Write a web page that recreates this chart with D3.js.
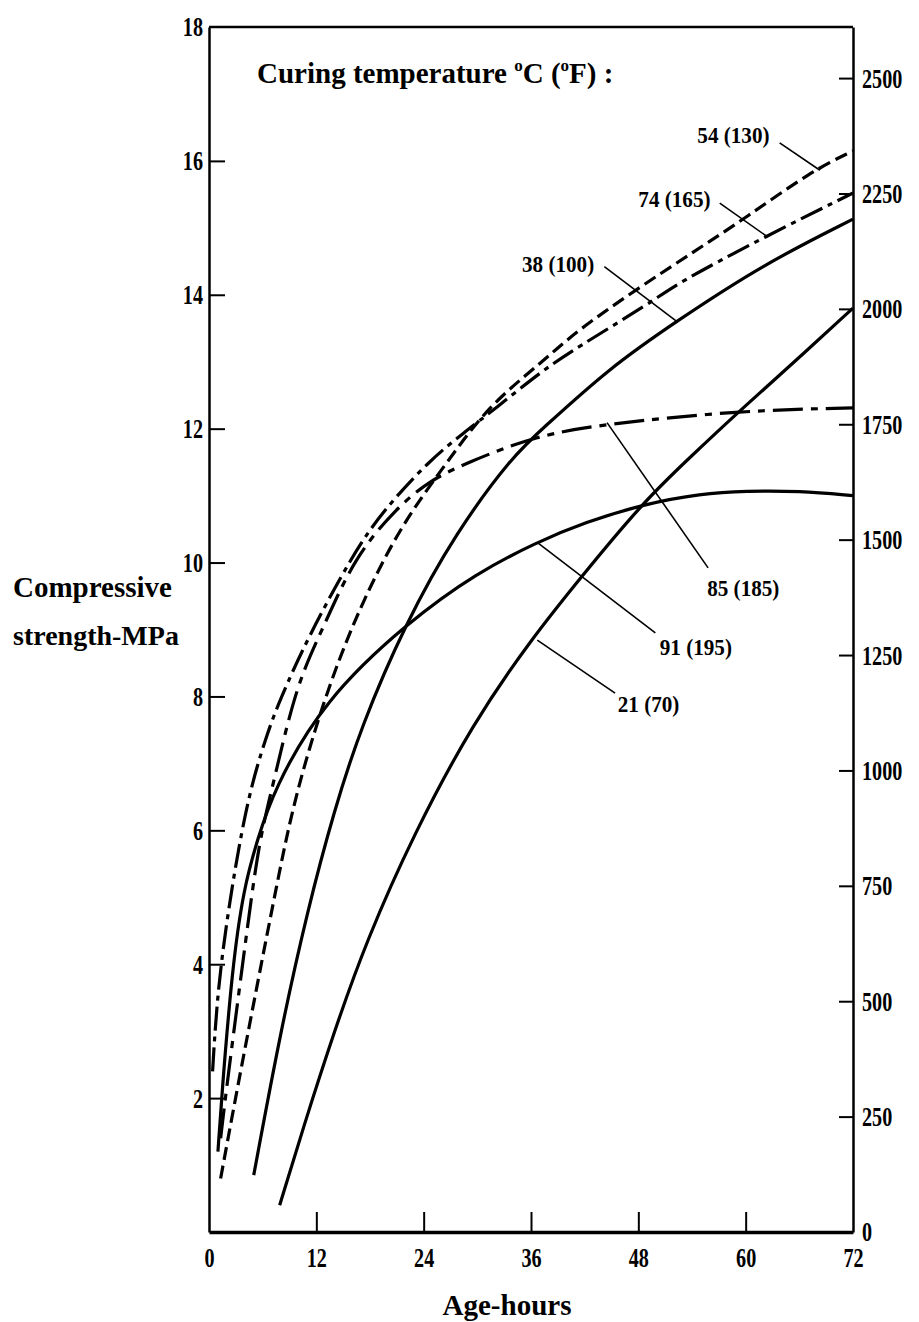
<!DOCTYPE html>
<html>
<head>
<meta charset="utf-8">
<script src="https://cdn.jsdelivr.net/npm/d3@7"></script>
<style>
  body { margin: 0; background: #fff; }
  svg { display: block; }
  text { font-family: 'Liberation Serif', 'Times New Roman', serif; font-weight: bold; fill: #000; }
</style>
</head>
<body>
<div id="chart"></div>
<script>
// Age in hours vs compressive strength (MPa)
const c21 = [[7.9,0.4],[10.4,1.5],[14,3.0],[17.6,4.35],[22.9,5.95],[29.5,7.6],[36,8.85],[41.4,9.75],[48.5,10.9],[54,11.6],[59.2,12.25],[63,12.7],[72,13.8]];
const c38 = [[5.0,0.85],[8.0,3.0],[11,4.8],[14,6.3],[17,7.55],[22,9.1],[27.6,10.45],[34,11.6],[37.3,12.0],[44.7,12.9],[52.2,13.6],[61.9,14.45],[72,15.13]];
const c54 = [[1.3,0.8],[3.1,2.1],[5.4,3.7],[7.6,5.2],[9.5,6.45],[12.8,7.94],[16.2,9.13],[19.8,10.13],[22.9,10.82],[26.9,11.55],[31.3,12.35],[37.3,13.0],[41,13.45],[48,14.1],[54.4,14.66],[60,15.15],[67.4,15.85],[72,16.15]];
const c74 = [[0.4,2.4],[0.9,3.5],[2.0,4.7],[4.2,6.45],[6.5,7.45],[7.9,7.94],[10.9,8.84],[16.1,10.13],[19.5,10.78],[24.6,11.52],[28.4,11.93],[32.1,12.31],[37.3,12.87],[41,13.2],[49.6,13.9],[52.2,14.16],[61.9,14.85],[72,15.52]];
const c85 = [[1.3,1.4],[2.0,2.2],[4.2,4.46],[5.6,5.85],[7.2,6.7],[9.8,8.2],[12.8,9.03],[16.2,10.07],[21,10.82],[24.6,11.22],[28.8,11.49],[36.6,11.9],[44.4,12.07],[59.2,12.27],[72,12.31]];
const c91 = [[1.0,1.2],[1.4,2.0],[2.6,3.96],[3.9,5.15],[5.4,5.85],[7.2,6.6],[12.8,7.94],[22.4,9.13],[30,9.85],[36.6,10.3],[42,10.6],[48.8,10.88],[55,11.03],[60,11.07],[66,11.07],[72,11.0]];

const curveNames = ['21 (70)', '38 (100)', '54 (130)', '74 (165)', '85 (185)', '91 (195)'];
const curveData = [c21, c38, c54, c74, c85, c91];
const curveDash = [null, null, '13,6', '24,6,5,6', '30,8,7,8', null];

const hourTicks = [0, 12, 24, 36, 48, 60, 72];
const mpaTicks = [2, 4, 6, 8, 10, 12, 14, 16, 18];
const psiTicks = [0, 250, 500, 750, 1000, 1250, 1500, 1750, 2000, 2250, 2500];

// label text anchor + leader line from label to curve (hours, MPa)
const labelPos = {
    '54 (130)': {tx: 54.6, ty: 16.27, from: [63.8, 16.27], to: [68.3, 15.86]},
    '74 (165)': {tx: 48.0, ty: 15.31, from: [57.1, 15.37], to: [62.5, 14.86]},
    '38 (100)': {tx: 35.0, ty: 14.34, from: [44.2, 14.42], to: [52.4, 13.59]},
    '85 (185)': {tx: 55.7, ty: 9.50, from: [55.8, 9.92], to: [44.5, 12.09]},
    '91 (195)': {tx: 50.4, ty: 8.62, from: [49.9, 8.95], to: [36.8, 10.29]},
    '21 (70)':  {tx: 45.7, ty: 7.77, from: [45.4, 8.05], to: [36.7, 8.84]}
};

const width = 919, height = 1322;
const plot = {left: 209, right: 853, top: 27, bottom: 1232};

const svg = d3.select('#chart').append('svg')
    .attr('width', width)
    .attr('height', height);

const x = d3.scaleLinear().domain([0, 72]).range([plot.left, plot.right]);
const y = d3.scaleLinear().domain([0, 18]).range([plot.bottom, plot.top]);
const psi = d3.scaleLinear().domain([0, 18 * 145.038]).range([plot.bottom, plot.top]);

// squeeze tick numbers, the original face is narrow
function narrow(sel, k) {
    sel.selectAll('text').each(function() {
        const w = this.getComputedTextLength();
        d3.select(this).attr('textLength', w * k).attr('lengthAdjust', 'spacingAndGlyphs');
    });
}

// left axis
const gLeft = svg.append('g')
    .attr('transform', `translate(${plot.left},0)`)
    .call(d3.axisLeft(y).tickValues(mpaTicks).tickSizeInner(-16).tickSizeOuter(0).tickPadding(6));
gLeft.selectAll('.tick line').filter(d => d === 18).remove();

// bottom axis
const gBottom = svg.append('g')
    .attr('transform', `translate(0,${plot.bottom})`)
    .call(d3.axisBottom(x).tickValues(hourTicks).tickSizeInner(-20).tickSizeOuter(0).tickPadding(15));
gBottom.selectAll('.tick line').filter(d => d === 0 || d === 72).remove();

// right axis in psi
const gRight = svg.append('g')
    .attr('transform', `translate(${plot.right},0)`)
    .call(d3.axisRight(psi).tickValues(psiTicks).tickFormat(d3.format('d'))
        .tickSizeInner(-14).tickSizeOuter(0).tickPadding(9));
gRight.selectAll('.tick line').filter(d => d === 0).remove();

[gLeft, gBottom, gRight].forEach(g => {
    g.select('.domain').attr('stroke', '#000').attr('stroke-width', 2.5);
    g.selectAll('.tick line').attr('stroke', '#000').attr('stroke-width', 2);
    g.selectAll('text').style('font-size', '28px').attr('fill', '#000');
    narrow(g, 0.72);
});
gBottom.select('.domain').attr('stroke-width', 3.5);

// top border
svg.append('line')
    .attr('x1', x(0)).attr('x2', x(72))
    .attr('y1', y(18)).attr('y2', y(18))
    .attr('stroke', '#000')
    .attr('stroke-width', 2.5);

// curves
const line = d3.line()
    .x(d => x(d[0]))
    .y(d => y(d[1]))
    .curve(d3.curveBasis);

svg.selectAll('.curve')
    .data(curveData)
    .join('path')
    .attr('class', 'curve')
    .attr('d', line)
    .attr('fill', 'none')
    .attr('stroke', '#000')
    .attr('stroke-width', 3.2)
    .attr('stroke-linecap', 'butt')
    .attr('stroke-dasharray', (d, i) => curveDash[i]);

// curve labels with leader lines
const lbl = curveNames.map(n => Object.assign({name: n}, labelPos[n]));

svg.selectAll('.leader')
    .data(lbl)
    .join('line')
    .attr('class', 'leader')
    .attr('x1', d => x(d.from[0])).attr('y1', d => y(d.from[1]))
    .attr('x2', d => x(d.to[0])).attr('y2', d => y(d.to[1]))
    .attr('stroke', '#000')
    .attr('stroke-width', 1.6);

const gLabels = svg.append('g');
gLabels.selectAll('text')
    .data(lbl)
    .join('text')
    .attr('x', d => x(d.tx))
    .attr('y', d => y(d.ty))
    .style('font-size', '24px')
    .text(d => d.name);
narrow(gLabels, 0.88);

// title
const title = svg.append('text')
    .attr('x', 257)
    .attr('y', 83)
    .style('font-size', '29px');
title.append('tspan').text('Curing temperature ');
title.append('tspan').text('o').style('font-size', '17px').attr('dy', -12);
title.append('tspan').text('C (').attr('dy', 12);
title.append('tspan').text('o').style('font-size', '17px').attr('dy', -12);
title.append('tspan').text('F) :').attr('dy', 12);

// axis titles
svg.append('text').attr('x', 13).attr('y', 597).style('font-size', '29px').text('Compressive');
svg.append('text').attr('x', 13).attr('y', 645).style('font-size', '28px').text('strength-MPa');
svg.append('text')
    .attr('x', 507)
    .attr('y', 1315)
    .attr('text-anchor', 'middle')
    .style('font-size', '29px')
    .text('Age-hours');
</script>
</body>
</html>
